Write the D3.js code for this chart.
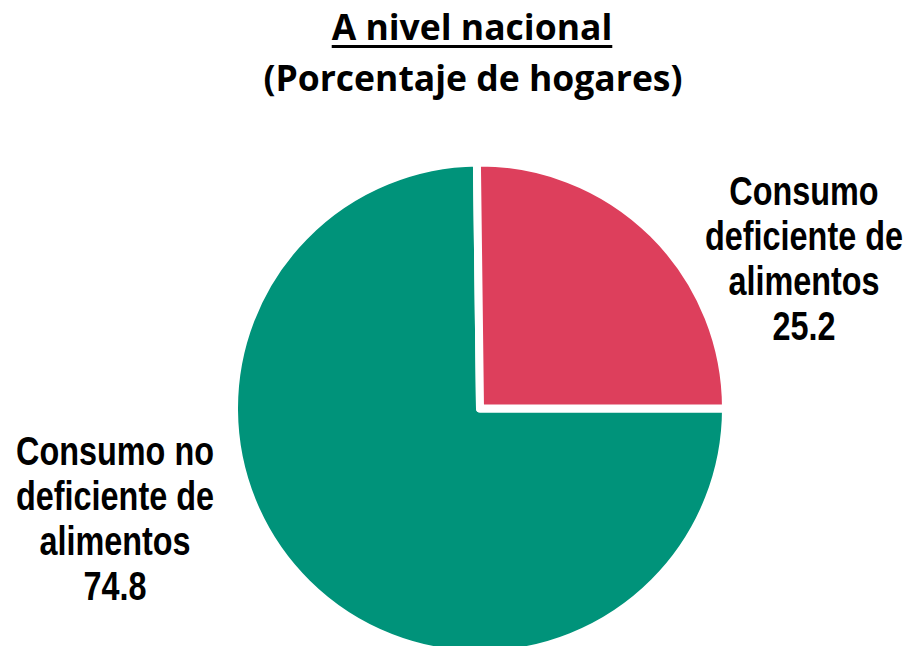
<!DOCTYPE html>
<html lang="es">
	<head>
		<meta charset="utf-8">
		<title>A nivel nacional</title>
		<script src="https://cdn.jsdelivr.net/npm/d3@7"></script>
		<style type="text/css">
			body {
				margin: 0;
				background-color: #ffffff;
			}
			.titulo {
				font-family: "Open Sans", "Noto Sans", sans-serif;
				font-weight: bold;
				fill: #000;
			}
			.etiqueta {
				font-family: "Liberation Sans", Arial, sans-serif;
				font-weight: bold;
				font-size: 41px;
				fill: #000;
			}
		</style>
	</head>
	<body>
		<script type="text/javascript">

			// datos
			var categorias = ["Consumo deficiente de alimentos", "Consumo no deficiente de alimentos"];
			var valores = [25.2, 74.8];
			var colores = ["#dd3f5c", "#00937a"];
			var lineasEtiqueta = [
				["Consumo", "deficiente de", "alimentos"],
				["Consumo no", "deficiente de", "alimentos"]
			];

			var w = 909;
			var h = 646;
			var cx = 480, cy = 408.5;
			var radio = 246;

			var svg = d3.select("body")
				.append("svg")
				.attr("width", w)
				.attr("height", h);

			// titulo
			var t1 = svg.append("text")
				.attr("class", "titulo")
				.attr("x", 472)
				.attr("y", 40)
				.attr("text-anchor", "middle")
				.attr("font-size", "35.5px")
				.text("A nivel nacional");

			var bb = t1.node().getBBox();
			svg.append("rect")
				.attr("x", bb.x)
				.attr("y", 45)
				.attr("width", bb.width)
				.attr("height", 3)
				.attr("fill", "#000");

			svg.append("text")
				.attr("class", "titulo")
				.attr("x", 473)
				.attr("y", 91)
				.attr("text-anchor", "middle")
				.attr("font-size", "35.5px")
				.text("(Porcentaje de hogares)");

			// pastel
			var pie = d3.pie()
				.sort(null)
				.startAngle(-0.72 * Math.PI / 180)
				.endAngle(2 * Math.PI - 0.72 * Math.PI / 180);

			var arc = d3.arc()
				.innerRadius(0)
				.outerRadius(radio);

			var arcos = pie(valores);

			var g = svg.append("g")
				.attr("transform", "translate(" + cx + "," + cy + ")");

			// verde primero, rojo encima
			g.selectAll("path")
				.data(arcos.slice().reverse())
				.enter()
				.append("path")
				.attr("d", arc)
				.attr("fill", function(d) { return colores[d.index]; })
				.attr("stroke", "#fff")
				.attr("stroke-width", 8)
				.attr("stroke-linejoin", "round");

			// etiquetas (letra estrecha: escala horizontal)
			var posEtiquetas = [
				{x: 804, y: 205},
				{x: 115, y: 465}
			];

			arcos.forEach(function(d, i) {
				var lineas = lineasEtiqueta[i].concat([d3.format(".1f")(valores[i])]);
				var txt = svg.append("text")
					.attr("class", "etiqueta")
					.attr("text-anchor", "middle")
					.attr("transform", "translate(" + posEtiquetas[i].x + ",0) scale(0.79,1)")
					.attr("x", 0)
					.attr("y", posEtiquetas[i].y);
				txt.selectAll("tspan")
					.data(lineas)
					.enter()
					.append("tspan")
					.attr("x", 0)
					.attr("dy", function(l, j) { return j ? 45 : 0; })
					.text(function(l) { return l; });
			});

		</script>
	</body>
</html>
